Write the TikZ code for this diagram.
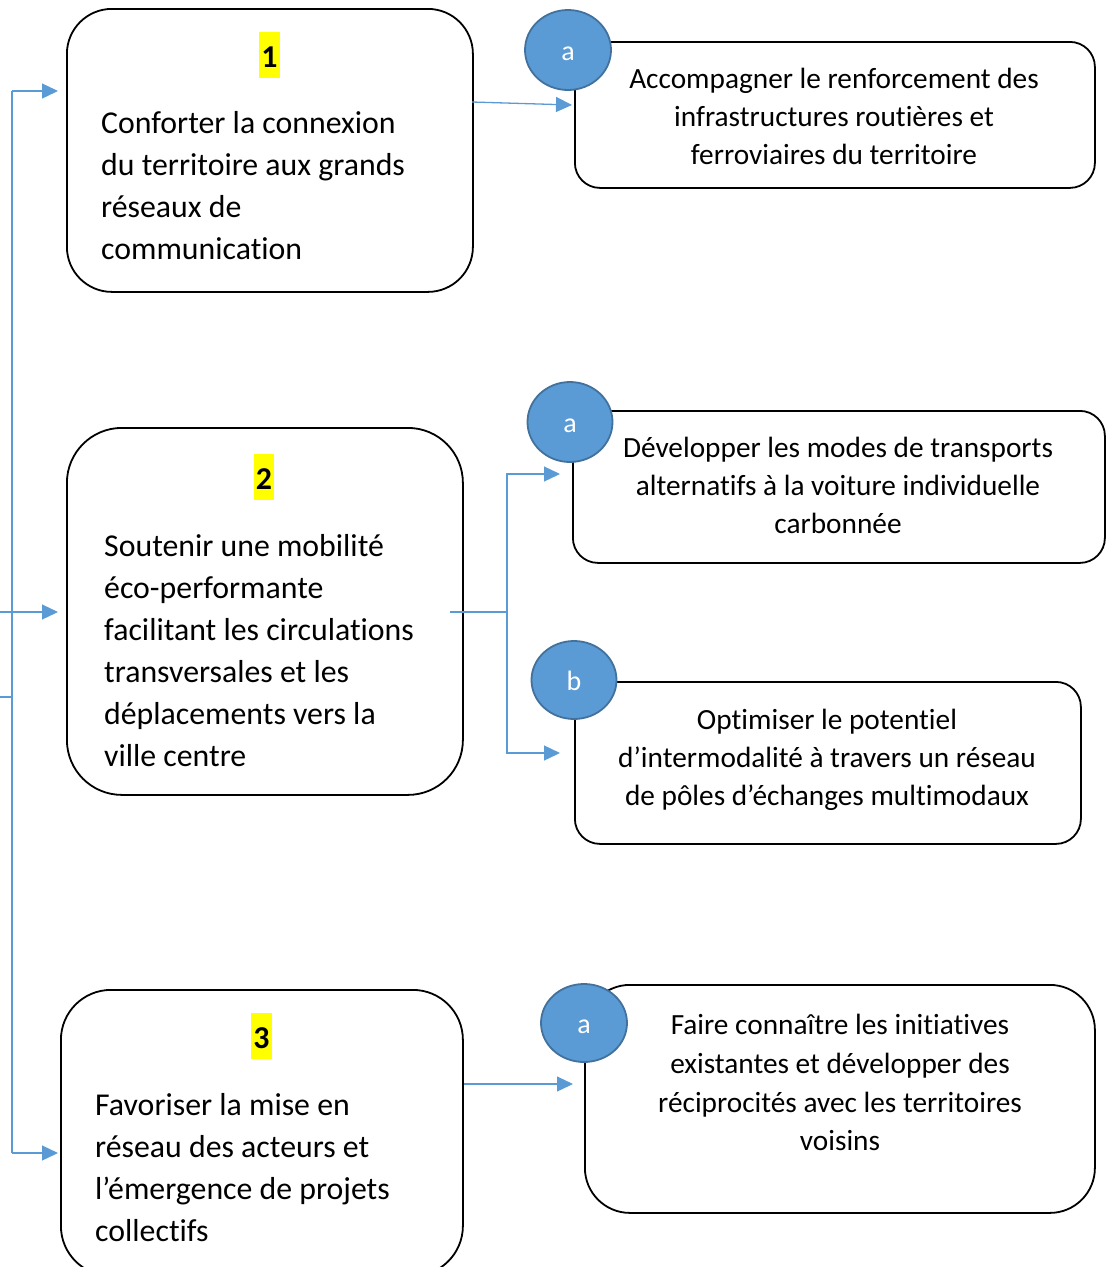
\documentclass[tikz,border=0pt]{standalone}
\usepackage{fontspec}
\setmainfont[RawFeature={-liga;-clig;-calt}]{Carlito}
\usetikzlibrary{arrows.meta,shapes.geometric,calc}
\definecolor{conncol}{RGB}{91,155,213}
\definecolor{circfill}{RGB}{91,155,213}
\definecolor{circdraw}{RGB}{65,113,156}
\definecolor{hlyellow}{RGB}{255,255,0}
\tikzset{
  box/.style={draw=black, line width=1.8pt, rectangle, anchor=north west, inner sep=0pt},
  circ/.style={ellipse, draw=circdraw, line width=1.8pt, fill=circfill, text=white,
    font=\fontsize{28}{30}\selectfont, inner sep=0pt, text height=21pt, text depth=0pt},
  conn/.style={draw=conncol, line width=1.3pt},
  arr/.style={conn, -{Triangle[length=16pt,width=15pt]}},
  ltxt/.style={anchor=base west, inner sep=0pt, font=\fontsize{31.8}{42}\selectfont},
  rtxt/.style={anchor=base, inner sep=0pt, font=\fontsize{29.3}{38}\selectfont},
  hl/.style={anchor=base, fill=hlyellow, inner xsep=2pt, inner ysep=0pt,
    text height=35pt, text depth=11pt, font=\bfseries\fontsize{31.8}{40}\selectfont}
}
\begin{document}
\begin{tikzpicture}[x=1pt,y=-1pt]
\useasboundingbox (0,0) rectangle (1109,1267);
\clip (0,0) rectangle (1109,1267);
% main boxes
\node[box, rounded corners=45pt, minimum width=406pt, minimum height=283pt] (B1) at (66,8) {};
\node[box, rounded corners=55pt, minimum width=396pt, minimum height=367pt] (B2) at (66,427) {};
\node[box, rounded corners=50pt, minimum width=402pt, minimum height=286pt] (B3) at (60,989) {};
% right boxes
\node[box, rounded corners=25pt, minimum width=520pt, minimum height=146pt] (R1) at (574,41) {};
\node[box, rounded corners=25pt, minimum width=532pt, minimum height=152pt] (R2) at (572,410) {};
\node[box, rounded corners=25pt, minimum width=506pt, minimum height=162pt] (R3) at (574,681) {};
\node[box, rounded corners=45pt, minimum width=510pt, minimum height=228pt] (R4) at (584,984) {};
% circles
\node[circ, minimum width=86pt, minimum height=80pt] (C1) at (568,50) {a};
\node[circ, minimum width=85pt, minimum height=80pt] (C2) at (570,422) {a};
\node[circ, minimum width=85pt, minimum height=78pt] (C3) at (574,680) {b};
\node[circ, minimum width=86pt, minimum height=78pt] (C4) at (584,1023) {a};
% numbers
\node[hl] (N1) at (269.5,67) {1};
\node[hl] (N2) at (264,489) {2};
\node[hl] (N3) at (261.5,1048) {3};
% left texts
\node[ltxt] (t11) at (101,133) {Conforter la connexion};
\node[ltxt] (t12) at (101,175) {du territoire aux grands};
\node[ltxt] (t13) at (101,217) {réseaux de};
\node[ltxt] (t14) at (101,259) {communication};
\node[ltxt] (t21) at (104,556) {Soutenir une mobilité};
\node[ltxt] (t22) at (104,598) {éco-performante};
\node[ltxt] (t23) at (104,640) {facilitant les circulations};
\node[ltxt] (t24) at (104,682) {transversales et les};
\node[ltxt] (t25) at (104,724) {déplacements vers la};
\node[ltxt] (t26) at (104,766) {ville centre};
\node[ltxt] (t31) at (95,1115) {Favoriser la mise en};
\node[ltxt] (t32) at (95,1157) {réseau des acteurs et};
\node[ltxt] (t33) at (95,1199) {l’émergence de projets};
\node[ltxt] (t34) at (95,1241) {collectifs};
% right texts
\node[rtxt] (r11) at (834,88) {Accompagner le renforcement des};
\node[rtxt] (r12) at (834,126) {infrastructures routières et};
\node[rtxt] (r13) at (834,164) {ferroviaires du territoire};
\node[rtxt] (r21) at (838,457) {Développer les modes de transports};
\node[rtxt] (r22) at (838,495) {alternatifs à la voiture individuelle};
\node[rtxt] (r23) at (838,533) {carbonnée};
\node[rtxt] (r31) at (827,729) {Optimiser le potentiel};
\node[rtxt] (r32) at (827,767) {d’intermodalité à travers un réseau};
\node[rtxt] (r33) at (827,805) {de pôles d’échanges multimodaux};
\node[rtxt] (r41) at (840,1034) {Faire connaître les initiatives};
\node[rtxt] (r42) at (840,1073) {existantes et développer des};
\node[rtxt] (r43) at (840,1112) {réciprocités avec les territoires};
\node[rtxt] (r44) at (840,1150) {voisins};
% left spine
\coordinate (s1) at (12,91);
\coordinate (s3) at (12,1153);
\coordinate (s2) at (0,612);
\coordinate (sx) at (0,697);
\draw[conn] (s1) -- (s3);
\draw[arr, shorten >=8pt] (s1) -- (s1 -| B1.west);
\draw[arr, shorten >=8pt] (s2) -- (s2 -| B2.west);
\draw[arr, shorten >=2pt] (s3) -- (s3 -| B3.west);
\draw[conn] (sx) -- (sx -| s1);
% box 1 to R1
\coordinate (a1s) at (472,102);
\coordinate (a1e) at (572,105);
\draw[arr] (a1s) -- (a1e);
% box 2 to R2/R3
\coordinate (j2s) at (450,612);
\coordinate (j2) at (507,612);
\coordinate (a2e) at (560,474);
\coordinate (a3e) at (560,753);
\draw[conn] (j2s) -- (j2);
\draw[arr] (j2) |- (a2e);
\draw[arr] (j2) |- (a3e);
% box 3 to R4
\coordinate (a4e) at (573,1084);
\draw[arr] (B3.east |- a4e) -- (a4e);
\end{tikzpicture}
\end{document}
